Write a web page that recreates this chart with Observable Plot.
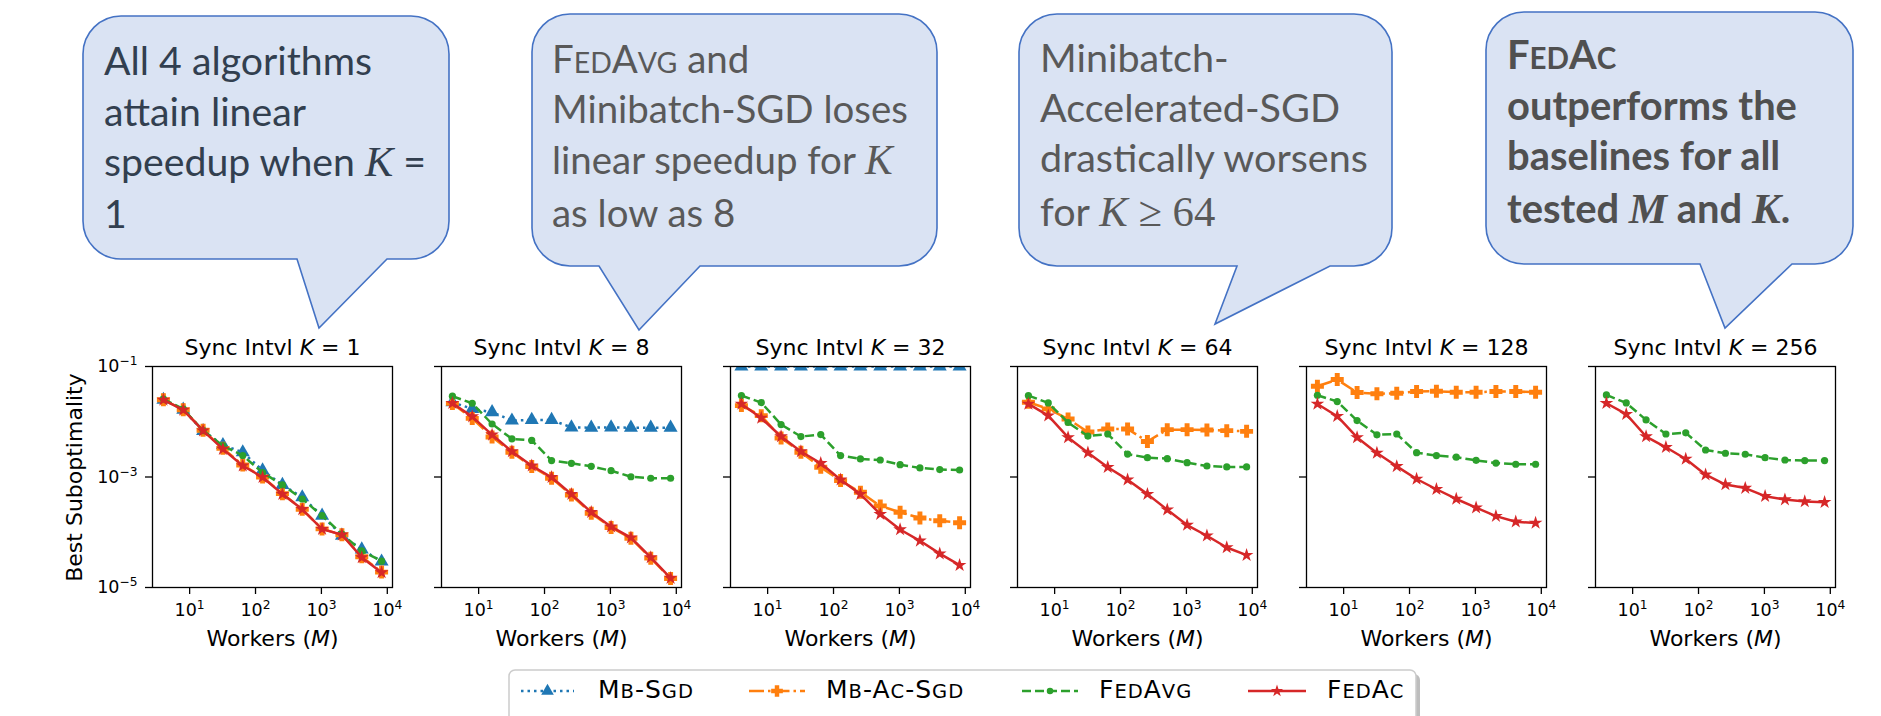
<!DOCTYPE html>
<html><head><meta charset="utf-8">
<script src="https://cdn.jsdelivr.net/npm/d3@7"></script>
<script src="https://cdn.jsdelivr.net/npm/@observablehq/plot@0.6"></script>
<style>
html,body{margin:0;padding:0;background:#fff;}
#root{position:relative;width:1881px;height:716px;overflow:hidden;font-family:"DejaVu Sans",sans-serif;}
.panel{position:absolute;}
.panel svg{overflow:visible;display:block;}
.panel svg g[aria-label="x-axis tick"] path,.panel svg g[aria-label="y-axis tick"] path{stroke-width:1.3;}
</style></head><body><div id="root"></div><script>
// ---------------- data ----------------
const workers = [4, 8, 16, 32, 64, 128, 256, 512, 1024, 2048, 4096, 8192];
const syncIntervals = [1, 8, 32, 64, 128, 256];
const xTicks = [10, 100, 1000, 10000];
const xTickLabels = ["10^1", "10^2", "10^3", "10^4"];
const yTicks = [1e-1, 1e-3, 1e-5];
const yTickLabels = ["10^−1", "10^−3", "10^−5"];
const algorithms = ["Mb-Sgd", "Mb-Ac-Sgd", "FedAvg", "FedAc"];

// one entry per sync interval (K = 1, 8, 32, 64, 128, 256); null = not shown
const mbSgd = [
  [2.5e-2, 1.66e-2, 6.8e-3, 3.8e-3, 2.8e-3, 1.32e-3, 7.2e-4, 4.3e-4, 2.0e-4, 8.7e-5, 4.9e-5, 2.95e-5],
  [2.25e-2, 1.71e-2, 1.49e-2, 1.05e-2, 1.08e-2, 1.08e-2, 7.9e-3, 7.8e-3, 7.9e-3, 7.8e-3, 7.8e-3, 7.8e-3],
  [1e-1, 1e-1, 1e-1, 1e-1, 1e-1, 1e-1, 1e-1, 1e-1, 1e-1, 1e-1, 1e-1, 1e-1],
  null, null, null
];
const mbAcSgd = [
  [2.5e-2, 1.65e-2, 7.0e-3, 3.3e-3, 1.65e-3, 1.0e-3, 5.0e-4, 2.6e-4, 1.15e-4, 9.0e-5, 3.6e-5, 1.9e-5],
  [2.15e-2, 1.15e-2, 5.3e-3, 2.8e-3, 1.55e-3, 9.5e-4, 4.7e-4, 2.2e-4, 1.22e-4, 7.8e-5, 3.4e-5, 1.45e-5],
  [1.96e-2, 1.29e-2, 5.1e-3, 2.8e-3, 1.5e-3, 8.6e-4, 5.3e-4, 3.0e-4, 2.3e-4, 1.81e-4, 1.61e-4, 1.49e-4],
  [2.25e-2, 1.71e-2, 1.12e-2, 6.5e-3, 7.4e-3, 7.4e-3, 4.4e-3, 7.2e-3, 7.2e-3, 7.1e-3, 6.9e-3, 6.7e-3],
  [4.4e-2, 5.8e-2, 3.38e-2, 3.2e-2, 3.29e-2, 3.52e-2, 3.57e-2, 3.43e-2, 3.43e-2, 3.52e-2, 3.52e-2, 3.43e-2],
  null
];
const fedAvg = [
  [2.57e-2, 1.70e-2, 6.9e-3, 3.7e-3, 2.45e-3, 1.2e-3, 7.2e-4, 4.0e-4, 2.0e-4, 9.3e-5, 4.6e-5, 3.0e-5],
  [2.9e-2, 2.16e-2, 9.1e-3, 4.9e-3, 4.6e-3, 1.98e-3, 1.77e-3, 1.56e-3, 1.3e-3, 1.01e-3, 9.5e-4, 9.5e-4],
  [2.98e-2, 2.22e-2, 8.9e-3, 5.4e-3, 5.85e-3, 2.44e-3, 2.12e-3, 2.03e-3, 1.67e-3, 1.46e-3, 1.36e-3, 1.34e-3],
  [2.98e-2, 2.19e-2, 9.7e-3, 5.5e-3, 6.0e-3, 2.6e-3, 2.24e-3, 2.15e-3, 1.82e-3, 1.58e-3, 1.52e-3, 1.52e-3],
  [3.02e-2, 2.32e-2, 1.05e-2, 5.8e-3, 6.0e-3, 2.76e-3, 2.44e-3, 2.28e-3, 2.0e-3, 1.79e-3, 1.7e-3, 1.7e-3],
  [3.06e-2, 2.19e-2, 1.08e-2, 6.0e-3, 6.3e-3, 3.08e-3, 2.69e-3, 2.58e-3, 2.24e-3, 2.03e-3, 1.98e-3, 1.98e-3]
];
const fedAc = [
  [2.49e-2, 1.64e-2, 6.9e-3, 3.2e-3, 1.6e-3, 9.9e-4, 4.9e-4, 2.6e-4, 1.14e-4, 9.0e-5, 3.5e-5, 1.87e-5],
  [2.16e-2, 1.24e-2, 5.8e-3, 2.9e-3, 1.6e-3, 9.9e-4, 4.9e-4, 2.3e-4, 1.26e-4, 8.0e-5, 3.5e-5, 1.48e-5],
  [2.1e-2, 1.17e-2, 5.4e-3, 2.9e-3, 1.77e-3, 8.9e-4, 4.9e-4, 2.13e-4, 1.12e-4, 7.0e-5, 4.1e-5, 2.54e-5],
  [2.1e-2, 1.29e-2, 5.2e-3, 2.76e-3, 1.5e-3, 8.95e-4, 4.9e-4, 2.56e-4, 1.35e-4, 8.65e-5, 5.3e-5, 3.85e-5],
  [2.1e-2, 1.26e-2, 5.2e-3, 2.72e-3, 1.56e-3, 9.2e-4, 6.0e-4, 4.0e-4, 2.78e-4, 1.96e-4, 1.55e-4, 1.47e-4],
  [2.16e-2, 1.37e-2, 5.4e-3, 3.45e-3, 2.12e-3, 1.1e-3, 7.3e-4, 6.3e-4, 4.5e-4, 3.9e-4, 3.6e-4, 3.5e-4]
];

// callout texts: [text, style] segments per line; style: sc = small caps, mi = math italic, m = math
const callout1Lines = [[["All 4 algorithms"]], [["attain linear"]], [["speedup when "], ["K", "mi"], [" ="]], [["1"]]];
const callout2Lines = [[["FedAvg", "sc"], [" and"]], [["Minibatch-SGD loses"]], [["linear speedup for "], ["K", "mi"]], [["as low as 8"]]];
const callout3Lines = [[["Minibatch-"]], [["Accelerated-SGD"]], [["drastically worsens"]], [["for "], ["K", "mi"], [" ≥ 64", "m"]]];
const callout4Lines = [[["FedAc", "sc"]], [["outperforms the"]], [["baselines for all"]], [["tested "], ["M", "mi"], [" and "], ["K", "mi"], ["."]]];

// ---------------- styles / layout ----------------
const ns = "http://www.w3.org/2000/svg";
const plusFilled = {
  draw(ctx, size) {
    const h = Math.sqrt(size / Math.PI), t = h * 0.38;
    ctx.moveTo(-t, -h); ctx.lineTo(t, -h); ctx.lineTo(t, -t); ctx.lineTo(h, -t); ctx.lineTo(h, t);
    ctx.lineTo(t, t); ctx.lineTo(t, h); ctx.lineTo(-t, h); ctx.lineTo(-t, t); ctx.lineTo(-h, t);
    ctx.lineTo(-h, -t); ctx.lineTo(-t, -t); ctx.closePath();
  }
};
const seriesStyles = [
  {color: "#1f77b4", dash: "2.5,4", symbol: d3.symbolTriangle, r: 5.2},
  {color: "#ff7f0e", dash: "15,4,2.5,4", symbol: plusFilled, r: 6.5},
  {color: "#2ca02c", dash: "9,4", symbol: d3.symbolCircle, r: 3.6},
  {color: "#d62728", dash: undefined, symbol: d3.symbolStar, r: 4.3}
];
const seriesData = [mbSgd, mbAcSgd, fedAvg, fedAc];
const frameLefts = [152, 441, 730, 1017, 1306, 1595];
const FT = 366, FW = 240, FH = 221;
const lo = Math.log10(workers[0]), hi = Math.log10(workers[workers.length - 1]);
const padX = 0.05 * (hi - lo);
const xDomain = [10 ** (lo - padX), 10 ** (hi + padX)];

const root = document.getElementById("root");

function richText(svg, full, parts) {
  svg.querySelectorAll("text").forEach(t => {
    if (t.textContent === full) {
      t.textContent = "";
      parts.forEach(([s, it]) => {
        const ts = document.createElementNS(ns, "tspan");
        ts.textContent = s;
        if (it) ts.setAttribute("font-style", "italic");
        t.appendChild(ts);
      });
    }
  });
}
function superscriptTicks(svg) {
  svg.querySelectorAll("text").forEach(t => {
    const m = /^10\^(.+)$/.exec(t.textContent);
    if (!m) return;
    t.textContent = "10";
    const ts = document.createElementNS(ns, "tspan");
    ts.setAttribute("font-size", "0.7em");
    ts.setAttribute("dy", "-0.55em");
    ts.textContent = m[1];
    t.appendChild(ts);
  });
}

syncIntervals.forEach((k, i) => {
  const ml = i === 0 ? 152 : 40, mr = 24, mt = 50, mb = 70;
  const marks = [];
  seriesData.forEach((arr, s) => {
    const vals = arr[i];
    if (!vals) return;
    const rows = workers.map((m, j) => ({M: m, v: vals[j], alg: algorithms[s]}));
    const st = seriesStyles[s];
    marks.push(Plot.line(rows, {x: "M", y: "v", stroke: st.color, strokeWidth: 2.5, strokeDasharray: st.dash, strokeLinecap: "butt", clip: true}));
    marks.push(Plot.dot(rows, {x: "M", y: "v", symbol: st.symbol, r: st.r, fill: st.color, stroke: "none", clip: true}));
  });
  marks.push(Plot.frame({stroke: "black", strokeWidth: 1.3}));
  const title = `Sync Intvl K = ${k}`;
  marks.push(Plot.text([title], {text: d => d, frameAnchor: "top", lineAnchor: "bottom", dy: -12, fontSize: 22, fill: "black"}));
  marks.push(Plot.text(["Workers (M)"], {text: d => d, frameAnchor: "bottom", lineAnchor: "bottom", dy: 58, fontSize: 22, fill: "black"}));
  if (i === 0) {
    marks.push(Plot.text(["Best Suboptimality"], {text: d => d, frameAnchor: "left", rotate: -90, dx: -78, fontSize: 22, fill: "black"}));
  }
  const chart = Plot.plot({
    width: ml + FW + mr, height: mt + FH + mb,
    marginLeft: ml, marginRight: mr, marginTop: mt, marginBottom: mb,
    style: {fontFamily: '"DejaVu Sans", sans-serif', fontSize: "17.5px", color: "#000", background: "transparent", overflow: "visible"},
    x: {type: "log", domain: xDomain, ticks: xTicks, tickFormat: d => xTickLabels[xTicks.indexOf(d)], tickSize: 7, tickPadding: 9, label: null},
    y: {type: "log", domain: [1e-5, 1e-1], ticks: yTicks, tickFormat: i === 0 ? (d => yTickLabels[yTicks.indexOf(d)]) : (() => ""), tickSize: 7, tickPadding: 8, label: null},
    marks
  });
  richText(chart, title, [["Sync Intvl "], ["K", true], [` = ${k}`]]);
  richText(chart, "Workers (M)", [["Workers ("], ["M", true], [")"]]);
  superscriptTicks(chart);
  const div = document.createElement("div");
  div.className = "panel";
  div.style.left = (frameLefts[i] - ml) + "px";
  div.style.top = (FT - mt) + "px";
  div.appendChild(chart);
  root.appendChild(div);
  // make sure the rotated y label sits centred on the frame, at the intended size
  const yl = [...chart.querySelectorAll("text")].find(t => t.textContent === "Best Suboptimality");
  if (yl) {
    yl.setAttribute("font-size", 22);
    const b = yl.getBoundingClientRect(), rb = root.getBoundingClientRect();
    const cx = b.left + b.width / 2 - rb.left, cy = b.top + b.height / 2 - rb.top;
    yl.setAttribute("transform", `translate(${74 - cx},${FT + FH / 2 + 1 - cy}) ` + (yl.getAttribute("transform") || ""));
  }
});

// ---------------- overlay: callouts + legend ----------------
const overlay = d3.create("svg").attr("width", 1881).attr("height", 716)
  .style("position", "absolute").style("left", "0px").style("top", "0px");
root.appendChild(overlay.node());

const callouts = [
  {lines: callout1Lines, box: {x0: 83, y0: 16, x1: 449, y1: 259, tl: 297, tr: 387, tx: 319, ty: 328}, tx: 104, base: [75, 126, 176, 228], color: "#323f4f", bold: false, fitLine: 0, fitW: 268},
  {lines: callout2Lines, box: {x0: 532, y0: 14, x1: 937, y1: 266, tl: 599, tr: 700, tx: 639, ty: 330}, tx: 552, base: [73, 123, 174, 227], color: "#595959", bold: false, fitLine: 1, fitW: 356},
  {lines: callout3Lines, box: {x0: 1019, y0: 14, x1: 1392, y1: 266, tl: 1237, tr: 1330, tx: 1215, ty: 324}, tx: 1040, base: [72, 122, 172, 226], color: "#595959", bold: false, fitLine: 2, fitW: 328},
  {lines: callout4Lines, box: {x0: 1486, y0: 12, x1: 1853, y1: 264, tl: 1700, tr: 1792, tx: 1725, ty: 328}, tx: 1507, base: [69, 120, 170, 223], color: "#505050", bold: true, fitLine: 1, fitW: 290}
];

function calloutPath(b, r) {
  return `M${b.x0 + r},${b.y0}H${b.x1 - r}A${r},${r} 0 0 1 ${b.x1},${b.y0 + r}V${b.y1 - r}A${r},${r} 0 0 1 ${b.x1 - r},${b.y1}` +
    `H${b.tr}L${b.tx},${b.ty}L${b.tl},${b.y1}H${b.x0 + r}A${r},${r} 0 0 1 ${b.x0},${b.y1 - r}V${b.y0 + r}A${r},${r} 0 0 1 ${b.x0 + r},${b.y0}Z`;
}

function addSmallCaps(parent, str, ratio) {
  let runs = [];
  for (const ch of str) {
    const small = ch !== ch.toUpperCase();
    if (runs.length && runs[runs.length - 1].small === small) runs[runs.length - 1].s += ch;
    else runs.push({small, s: ch});
  }
  runs.forEach(rn => {
    parent.append("tspan").attr("font-size", rn.small ? `${ratio}em` : null).text(rn.small ? rn.s.toUpperCase() : rn.s);
  });
}

callouts.forEach(c => {
  const g = overlay.append("g");
  g.append("path").attr("d", calloutPath(c.box, 38)).attr("fill", "#dae3f3").attr("stroke", "#4472c4").attr("stroke-width", 1.6);
  const tg = g.append("g").attr("font-family", "Lato, 'Open Sans', sans-serif").attr("font-size", 37)
    .attr("fill", c.color).attr("font-weight", c.bold ? "bold" : null);
  const texts = c.lines.map((line, li) => {
    const t = tg.append("text").attr("x", c.tx).attr("y", c.base[li]);
    line.forEach(([s, st]) => {
      if (st === "sc") {
        addSmallCaps(t.append("tspan"), s, 0.74);
      } else if (st === "mi") {
        t.append("tspan").attr("font-family", "'Liberation Serif', 'DejaVu Serif', serif").attr("font-style", "italic").attr("font-size", "1.08em").text(s);
      } else if (st === "m") {
        t.append("tspan").attr("font-family", "'Liberation Serif', 'DejaVu Serif', serif").attr("font-size", "1.08em").text(s);
      } else {
        t.append("tspan").text(s);
      }
    });
    return t;
  });
  const len = texts[c.fitLine].node().getComputedTextLength();
  if (len > 0) tg.attr("font-size", 37 * c.fitW / len);
});

// legend
const lg = overlay.append("g");
lg.append("rect").attr("x", 513).attr("y", 674).attr("width", 907).attr("height", 70).attr("rx", 6).attr("fill", "#bdbdbd");
lg.append("rect").attr("x", 509).attr("y", 670).attr("width", 907).attr("height", 70).attr("rx", 6).attr("fill", "#fff").attr("stroke", "#cccccc").attr("stroke-width", 1.5);
const legendSlots = [{x0: 521, x1: 574, tx: 598}, {x0: 749, x1: 805, tx: 826}, {x0: 1022, x1: 1078, tx: 1099}, {x0: 1248, x1: 1306, tx: 1327}];
algorithms.forEach((name, s) => {
  const st = seriesStyles[s], sl = legendSlots[s], ly = 691;
  lg.append("line").attr("x1", sl.x0).attr("x2", sl.x1).attr("y1", ly).attr("y2", ly)
    .attr("stroke", st.color).attr("stroke-width", 2.5).attr("stroke-dasharray", st.dash || null);
  const rr = st.r * 0.9;
  lg.append("path").attr("d", d3.symbol(st.symbol, rr * rr * Math.PI)())
    .attr("transform", `translate(${(sl.x0 + sl.x1) / 2},${ly})`).attr("fill", st.color);
  const t = lg.append("text").attr("x", sl.tx).attr("y", 698).attr("font-family", "'DejaVu Sans', sans-serif")
    .attr("font-size", 25).attr("letter-spacing", 1).attr("fill", "#000");
  addSmallCaps(t, name, 0.78);
});
</script></body></html>
